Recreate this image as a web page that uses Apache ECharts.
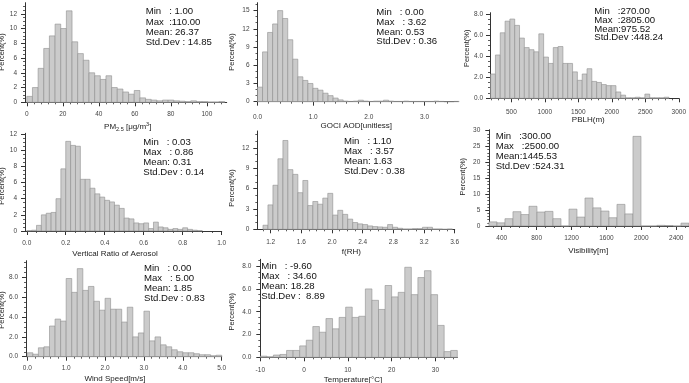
<!DOCTYPE html>
<html>
<head>
<meta charset="utf-8">
<script src="https://cdn.jsdelivr.net/npm/echarts@6.0.0/dist/echarts.min.js"></script>
<style>
  html, body { margin: 0; padding: 0; background: #fff; }
  #chart { width: 689px; height: 383px; }
</style>
</head>
<body>
<div id="chart"></div>
<script>
// histogram data (percent per bin), bins given by start + width
const pmStart = 0, pmWidth = 3.14
const pmValues = [0.8, 2.0, 4.6, 7.3, 9.0, 10.6, 10.0, 12.4, 8.2, 6.6, 5.7, 4.0, 3.6, 3.1, 3.6, 2.0, 1.8, 1.4, 1.1, 1.6,
  0.6, 0.4, 0.3, 0.2, 0.3, 0.3, 0.2, 0.15, 0.1, 0.2, 0.1, 0.1, 0.05, 0.05, 0.1]
const pmXTicks = [0, 20, 40, 60, 80, 100]
const pmYTicks = [0, 2, 4, 6, 8, 10, 12]
const pmStats = ['Min   : 1.00', 'Max  :110.00', 'Mean: 26.37', 'Std.Dev : 14.85']

const aodStart = 0, aodWidth = 0.0905
const aodValues = [2.4, 8.2, 11.4, 12.8, 15.0, 13.7, 10.2, 7.0, 4.1, 3.5, 3.0, 2.2, 1.9, 1.4, 1.0, 0.6, 0.3, 0.1, 0.05, 0.1,
  0.25, 0.1, 0.05, 0.1, 0.1, 0.25, 0.1, 0.05, 0.05, 0.1, 0.05, 0.05, 0.05, 0.05, 0.05, 0.1, 0.05, 0, 0, 0.05]
const aodXTicks = [0, 1, 2, 3]
const aodYTicks = [0, 3, 6, 9, 12, 15]
const aodStats = ['Min   : 0.00', 'Max   : 3.62', 'Mean: 0.53', 'Std.Dev : 0.36']

const pblhStart = 190, pblhWidth = 72
const pblhValues = [2.3, 4.1, 6.2, 7.3, 7.5, 6.9, 5.7, 4.8, 4.6, 4.4, 6.1, 3.9, 3.3, 4.8, 4.9, 3.3, 3.3, 2.5, 1.7, 2.3,
  2.8, 1.6, 1.5, 1.3, 1.2, 1.2, 0.6, 0.3, 0.05, 0.05, 0.1, 0.05, 0.4, 0.05, 0.05, 0.05, 0.1]
const pblhXTicks = [500, 1000, 1500, 2000, 2500, 3000]
const pblhYTicks = [0, 2, 4, 6, 8]
const pblhStats = ['Min   :270.00', 'Max  :2805.00', 'Mean:975.52', 'Std.Dev :448.24']

const vrStart = 0, vrWidth = 0.025
const vrValues = [0.05, 0.1, 0.7, 2.0, 2.2, 2.3, 4.0, 7.7, 11.1, 10.6, 10.5, 6.4, 6.4, 5.3, 4.6, 4.2, 3.8, 3.6, 3.2, 2.8,
  1.6, 1.5, 1.0, 0.9, 1.0, 0.3, 1.1, 0.5, 0.4, 0.2, 0.3, 0.2, 0.4, 0.2, 0.1, 0.05]
const vrXTicks = [0, 0.2, 0.4, 0.6, 0.8, 1.0]
const vrYTicks = [0, 2, 4, 6, 8, 10, 12]
const vrStats = ['Min   : 0.03', 'Max   : 0.86', 'Mean: 0.31', 'Std.Dev : 0.14']

const frhStart = 1.10, frhWidth = 0.065
const frhValues = [0.6, 3.6, 6.5, 10.4, 13.1, 8.8, 8.1, 5.4, 7.2, 3.5, 4.1, 3.7, 4.6, 5.3, 2.1, 2.8, 2.2, 1.5, 1.0, 0.8,
  0.7, 0.5, 0.4, 0.35, 0.3, 0.7, 0.3, 0.15, 0.05, 0.05, 0.1, 0.1, 0.3, 0.3, 0.05, 0.05, 0, 0.05]
const frhXTicks = [1.2, 1.6, 2.0, 2.4, 2.8, 3.2, 3.6]
const frhYTicks = [0, 3, 6, 9, 12]
const frhStats = ['Min   : 1.10', 'Max   : 3.57', 'Mean: 1.63', 'Std.Dev : 0.38']

const visStart = 254.17, visWidth = 91.667
const visValues = [1.3, 1.0, 2.3, 4.5, 3.6, 6.2, 4.4, 4.6, 2.3, 0, 5.3, 2.8, 8.8, 5.7, 4.7, 2.6, 6.8, 3.8, 28.2, 0,
  0, 0.2, 0.15, 0, 0.9]
const visXTicks = [400, 800, 1200, 1600, 2000, 2400]
const visYTicks = [0, 5, 10, 15, 20, 25, 30]
const visStats = ['Min   :300.00', 'Max   :2500.00', 'Mean:1445.53', 'Std.Dev :524.31']

const windStart = 0, windWidth = 1 / 7
const windValues = [0.4, 0.25, 0.9, 1.0, 3.1, 3.8, 3.6, 7.9, 6.5, 8.9, 6.7, 7.1, 5.6, 4.7, 5.9, 4.8, 4.8, 3.5, 5.0, 2.0,
  2.4, 4.6, 1.6, 2.0, 1.2, 1.0, 0.7, 0.5, 0.4, 0.4, 0.3, 0.2, 0.2, 0.1, 0.15]
const windXTicks = [0, 1, 2, 3, 4, 5]
const windYTicks = [0, 2, 4, 6, 8]
const windStats = ['Min   : 0.00', 'Max   : 5.00', 'Mean: 1.85', 'Std.Dev : 0.83']

const tempStart = -10, tempWidth = 1.5
const tempValues = [0.1, 0.05, 0.2, 0.25, 0.6, 0.6, 1.0, 1.5, 2.7, 2.2, 3.4, 2.5, 3.5, 4.4, 3.5, 3.6, 6.0, 5.0, 4.2, 6.3,
  5.3, 5.7, 7.9, 5.5, 7.0, 7.6, 5.5, 2.8, 0.5, 0.6]
const tempXTicks = [-10, 0, 10, 20, 30]
const tempYTicks = [0, 2, 4, 6, 8]
const tempStats = ['Min   : -9.60', 'Max   : 34.60', 'Mean: 18.28', 'Std.Dev :  8.89']

const FONT = 'Liberation Sans, Arial, sans-serif'
const BAR_FILL = '#cbcbcb'
const BAR_EDGE = '#8e8e8e'
const AXIS_COLOR = '#333'

// layout of each panel (pixels)
const panels = [
  { values: pmValues, start: pmStart, width: pmWidth, stats: pmStats,
    grid: [25, 2.7, 201.7, 99.6], x: [-1, 111, pmXTicks, 5, 0, 8], y: [0, 13.5, pmYTicks, 4, 0, 8],
    statPos: [145.7, 6.5, 10.3], yTitle: [2, 52], xTitle: [127.7, 126.7], xName: 'pm' },
  { values: aodValues, start: aodStart, width: aodWidth, stats: aodStats,
    grid: [257.5, 2.7, 200.5, 99], x: [0, 3.6, aodXTicks, 5, 1, 12], y: [0, 16.3, aodYTicks, 3, 0, 8],
    statPos: [376.3, 7.8, 9.7], yTitle: [232, 52], xTitle: [356.3, 126], xName: 'GOCI AOD[unitless]' },
  { values: pblhValues, start: pblhStart, width: pblhWidth, stats: pblhStats,
    grid: [490, 12.7, 191.7, 85.6], x: [181, 3000, pblhXTicks, 5, 0, 10], y: [0, 8.1, pblhYTicks, 4, 1, 7],
    statPos: [594.3, 7.4, 8.6], yTitle: [466.7, 48.3], xTitle: [588.3, 119.3], xName: 'PBLH(m)' },
  { values: vrValues, start: vrStart, width: vrWidth, stats: vrStats,
    grid: [25, 133.3, 196.7, 97.7], x: [-0.009, 1.0, vrXTicks, 4, 1, 9], y: [0, 12.1, vrYTicks, 4, 0, 8],
    statPos: [143.3, 137.3, 10], yTitle: [2, 186], xTitle: [115, 254], xName: 'Vertical Ratio of Aerosol' },
  { values: frhValues, start: frhStart, width: frhWidth, stats: frhStats,
    grid: [257.3, 131, 197.4, 98.3], x: [1.026, 3.6, frhXTicks, 4, 1, 9], y: [0, 14.5, frhYTicks, 3, 0, 8],
    statPos: [344, 136, 10], yTitle: [232, 188], xTitle: [351.3, 252], xName: 'f(RH)' },
  { values: visValues, start: visStart, width: visWidth, stats: visStats,
    grid: [489.3, 129.7, 200.2, 96.3], x: [258, 2546, visXTicks, 4, 0, 9], y: [0, 30.3, visYTicks, 5, 0, 9],
    statPos: [495.7, 131.7, 10], yTitle: [463.3, 176.7], xTitle: [588.3, 251], xName: 'Visibility[m]' },
  { values: windValues, start: windStart, width: windWidth, stats: windStats,
    grid: [26, 260.7, 195.7, 96], x: [-0.033, 5.0, windXTicks, 5, 1, 8], y: [0, 9.7, windYTicks, 4, 1, 8],
    statPos: [144, 263.3, 10], yTitle: [2, 310], xTitle: [115, 378.3], xName: 'Wind Speed[m/s]' },
  { values: tempValues, start: tempStart, width: tempWidth, stats: tempStats,
    grid: [260.3, 259.3, 197, 98], x: [-10, 35, tempXTicks, 5, 0, 9], y: [0, 8.6, tempYTicks, 4, 1, 9],
    statPos: [261.3, 261.8, 9.8], yTitle: [232, 311.7], xTitle: [353, 380], xName: 'Temperature[\u00b0C]' }
]

function minorTicks(ticks, parts, min, max) {
  const step = ticks[1] - ticks[0]
  const sub = step / parts
  const out = []
  for (let i = -parts; i <= ticks.length * parts; i++) {
    if (i % parts === 0) continue
    const v = Math.round((ticks[0] + i * sub) * 1e6) / 1e6
    if (v > min && v < max) out.push(v)
  }
  return out
}

function makeAxes(dim, cfg, gridIndex) {
  const [min, max, ticks, parts, dec, gap] = cfg
  const base = {
    type: 'value', gridIndex, min, max,
    position: dim === 'x' ? 'bottom' : 'left',
    splitLine: { show: false }
  }
  const major = Object.assign({}, base, {
    axisLine: { show: true, onZero: false, lineStyle: { color: AXIS_COLOR, width: 1 } },
    axisTick: { show: true, inside: false, length: 4, customValues: ticks, lineStyle: { color: AXIS_COLOR, width: 1 } },
    axisLabel: {
      show: true, customValues: ticks, margin: gap, fontSize: 6.5, fontFamily: FONT, color: '#444',
      formatter: v => Number(v).toFixed(dec)
    }
  })
  const minor = Object.assign({}, base, {
    axisLine: { show: false, onZero: false },
    axisTick: { show: true, inside: false, length: 2, customValues: minorTicks(ticks, parts, min, max),
      lineStyle: { color: AXIS_COLOR, width: 0.8 } },
    axisLabel: { show: false }
  })
  return [major, minor]
}

const grid = [], xAxis = [], yAxis = [], series = [], graphic = []

panels.forEach((p, i) => {
  const [l, t, w, h] = p.grid
  grid.push({ left: l, top: t, width: w, height: h, containLabel: false })
  xAxis.push(...makeAxes('x', p.x, i))
  yAxis.push(...makeAxes('y', p.y, i))

  series.push({
    type: 'custom',
    xAxisIndex: i * 2,
    yAxisIndex: i * 2,
    data: p.values.map((v, k) => [p.start + k * p.width, p.start + (k + 1) * p.width, v]),
    renderItem(params, api) {
      const p0 = api.coord([api.value(0), 0])
      const p1 = api.coord([api.value(1), api.value(2)])
      return {
        type: 'rect',
        shape: { x: p0[0], y: p1[1], width: p1[0] - p0[0], height: p0[1] - p1[1] },
        style: { fill: BAR_FILL, stroke: BAR_EDGE, lineWidth: 0.6 }
      }
    },
    silent: true,
    animation: false
  })

  // statistics box
  graphic.push({
    type: 'text', x: p.statPos[0], y: p.statPos[1], z: 10,
    style: {
      text: p.stats.join('\n'), fontSize: 9.6, fontFamily: FONT, fill: '#111',
      lineHeight: p.statPos[2], align: 'left', verticalAlign: 'top'
    }
  })

  // y title
  graphic.push({
    type: 'text', x: p.yTitle[0], y: p.yTitle[1], rotation: Math.PI / 2,
    style: { text: 'Percent(%)', fontSize: 7.5, fontFamily: FONT, fill: '#222', align: 'center', verticalAlign: 'middle' }
  })

  // x title
  if (p.xName === 'pm') {
    graphic.push({
      type: 'text', x: p.xTitle[0], y: p.xTitle[1],
      style: {
        text: '{a|PM}{s|2.5}{a| [\u03bcg/m}{p|3}{a|]}',
        align: 'center', verticalAlign: 'middle', fontFamily: FONT, fill: '#222',
        rich: {
          a: { fontSize: 8, lineHeight: 11, fontFamily: FONT, fill: '#222' },
          s: { fontSize: 5.5, lineHeight: 6, verticalAlign: 'bottom', fontFamily: FONT, fill: '#222' },
          p: { fontSize: 5.5, lineHeight: 6, verticalAlign: 'top', fontFamily: FONT, fill: '#222' }
        }
      }
    })
  } else {
    graphic.push({
      type: 'text', x: p.xTitle[0], y: p.xTitle[1],
      style: { text: p.xName, fontSize: 8, fontFamily: FONT, fill: '#222', align: 'center', verticalAlign: 'middle' }
    })
  }
})

const chart = echarts.init(document.getElementById('chart'))
chart.setOption({
  backgroundColor: '#fff',
  animation: false,
  grid, xAxis, yAxis, series, graphic
})
</script>
</body>
</html>
